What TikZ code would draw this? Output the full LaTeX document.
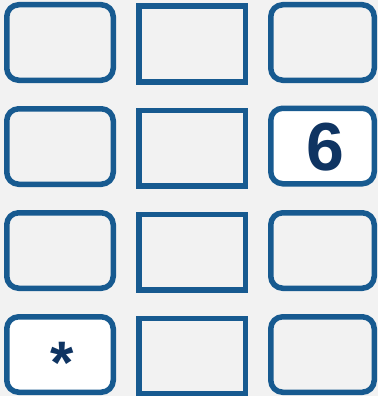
\documentclass[tikz,border=0pt]{standalone}
\usepackage{fontspec}
\setmainfont{Liberation Sans}
\definecolor{bg}{HTML}{F2F2F2}
\definecolor{edge}{HTML}{175A90}
\definecolor{txt}{HTML}{0F3462}
\begin{document}
\begin{tikzpicture}[x=1pt,y=-1pt,
  cell/.style={draw=edge,line width=5.5pt,fill=bg,minimum width=106.5pt,minimum height=75.5pt,inner sep=0pt},
  rcell/.style={cell,rounded corners=12pt},
  scell/.style={cell},
  wcell/.style={rcell,fill=white},
  lbl/.style={font=\bfseries\fontsize{68}{68}\selectfont,text=txt,inner sep=0pt},
  slbl/.style={lbl,font=\bfseries\fontsize{60}{60}\selectfont}]
\fill[bg] (0,0) rectangle (378,396);
\useasboundingbox (0,0) rectangle (378,396);
% row 1
\node[rcell] (a1) at (60,42.5) {};
\node[scell] (b1) at (192,44) {};
\node[rcell,minimum width=103.5pt] (c1) at (322.5,42.5) {};
% row 2
\node[rcell] (a2) at (60,146.5) {};
\node[scell] (b2) at (192,148) {};
\node[wcell,minimum width=103.5pt] (c2) at (322.5,146) {};
\node[lbl] (t6) at (325,147.5) {6};
% row 3
\node[rcell] (a3) at (60,250.5) {};
\node[scell] (b3) at (192,252) {};
\node[rcell,minimum width=103.5pt] (c3) at (322.5,250.5) {};
% row 4
\node[wcell] (a4) at (60,354.5) {};
\node[scell] (b4) at (192,356) {};
\node[rcell,minimum width=103.5pt] (c4) at (322.5,354.5) {};
\node[slbl,anchor=center] (ts) at ([xshift=2pt,yshift=-8pt]a4.center) {*};
\end{tikzpicture}
\end{document}
